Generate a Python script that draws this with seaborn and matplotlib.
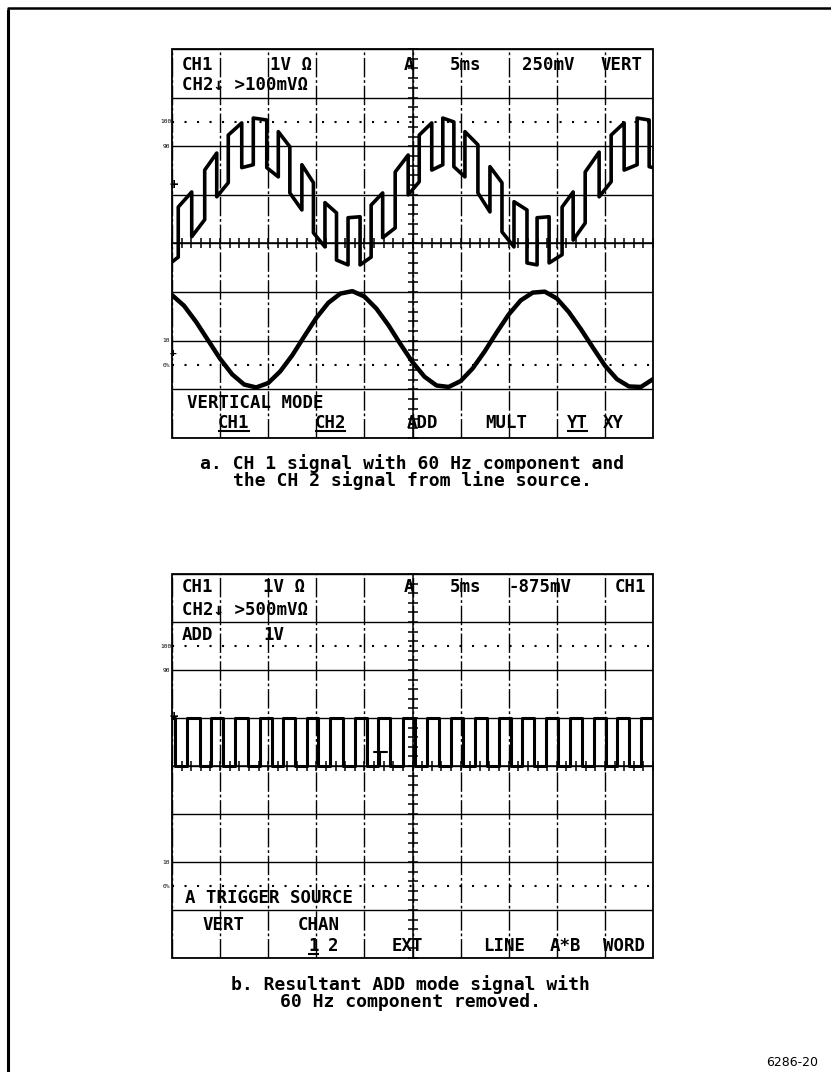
import matplotlib
matplotlib.use("Agg")
from matplotlib import pyplot as plt
from matplotlib.lines import Line2D
from matplotlib.patches import Rectangle
from matplotlib.ticker import MultipleLocator
import seaborn as sns

# panel a, CH1 : stepped trace, one straight segment between consecutive edges
ch1_edges = [0.00, 0.13, 0.41, 0.68, 0.93, 1.17, 1.45, 1.69, 1.97, 2.21,
             2.45, 2.70, 2.94, 3.18, 3.42, 3.66, 3.91, 4.14, 4.38, 4.64,
             4.91, 5.14, 5.40, 5.63, 5.86, 6.09, 6.36, 6.61, 6.86, 7.11,
             7.38, 7.59, 7.84, 8.11, 8.34, 8.59, 8.88, 9.13, 9.40, 9.67,
             9.92, 10.00]
ch1_seg_start = [3.62, 4.75, 4.14, 5.51, 4.96, 6.23, 5.56, 6.58, 5.56, 6.30,
                 5.04, 5.62, 4.22, 4.84, 3.66, 4.53, 3.56, 4.79, 4.12, 5.47,
                 5.00, 6.23, 5.51, 6.58, 5.58, 6.30, 5.04, 5.58, 4.24, 4.86,
                 3.60, 4.53, 3.60, 4.75, 4.07, 5.47, 4.96, 6.23, 5.51, 6.58,
                 5.58]
ch1_seg_end = [3.72, 5.06, 4.49, 5.86, 5.25, 6.48, 5.62, 6.54, 5.37, 5.99,
               4.69, 5.25, 3.93, 4.63, 3.56, 4.55, 3.72, 5.04, 4.32, 5.82,
               5.27, 6.48, 5.62, 6.50, 5.37, 6.03, 4.65, 5.25, 3.93, 4.69,
               3.56, 4.55, 3.77, 5.06, 4.42, 5.88, 5.27, 6.48, 5.62, 6.54,
               5.56]

# panel a, CH2 : line-source sine
ch2_x = [0.00, 0.25, 0.50, 0.75, 1.00, 1.25, 1.50, 1.75, 2.00, 2.25,
         2.50, 2.75, 3.00, 3.25, 3.50, 3.75, 4.00, 4.25, 4.50, 4.75,
         5.00, 5.25, 5.50, 5.75, 6.00, 6.25, 6.50, 6.75, 7.00, 7.25,
         7.50, 7.75, 8.00, 8.25, 8.50, 8.75, 9.00, 9.25, 9.50, 9.75,
         10.00]
ch2_y = [2.94, 2.72, 2.39, 2.01, 1.63, 1.31, 1.10, 1.04, 1.13, 1.37,
         1.70, 2.09, 2.47, 2.78, 2.97, 3.02, 2.91, 2.66, 2.32, 1.93,
         1.56, 1.26, 1.08, 1.05, 1.17, 1.43, 1.78, 2.17, 2.54, 2.83,
         2.99, 3.01, 2.87, 2.59, 2.24, 1.86, 1.49, 1.21, 1.06, 1.05,
         1.21]

# panel b, ADD : square wave, level switches at each edge (starts high)
add_edges = [0.00, 0.07, 0.31, 0.58, 0.82, 1.07, 1.31, 1.59, 1.83, 2.07,
             2.31, 2.56, 2.80, 3.04, 3.28, 3.56, 3.80, 4.05, 4.29, 4.53,
             4.81, 5.06, 5.30, 5.55, 5.80, 6.05, 6.29, 6.54, 6.79, 7.04,
             7.28, 7.53, 7.78, 8.03, 8.27, 8.52, 8.77, 9.02, 9.26, 9.51,
             9.76, 10.00]
add_high = 5.0
add_low = 4.0
trig_x, trig_y = 4.32, 4.29

# on-screen readouts  (text, x, y, underlined)
a_texts = [("CH1", 0.21, 7.67, False), ("1V \u03a9", 2.04, 7.67, False),
           ("A", 4.82, 7.67, False),
           ("5ms", 5.78, 7.67, False), ("250mV", 7.28, 7.67, False),
           ("VERT", 8.90, 7.67, False), ("CH2\u2193 >100mV\u03a9", 0.21, 7.26, False),
           ("VERTICAL MODE", 0.31, 0.72, False), ("CH1", 0.96, 0.31, True),
           ("CH2", 2.97, 0.31, True), ("ADD", 4.89, 0.31, False),
           ("MULT", 6.51, 0.31, False), ("YT", 8.21, 0.31, True),
           ("XY", 8.96, 0.31, False)]
b_texts = [("CH1", 0.21, 7.73, False), ("1V \u03a9", 1.89, 7.73, False),
           ("A", 4.82, 7.73, False),
           ("5ms", 5.78, 7.73, False), ("-875mV", 6.99, 7.73, False),
           ("CH1", 9.21, 7.73, False), ("CH2\u2193 >500mV\u03a9", 0.21, 7.25, False),
           ("ADD", 0.21, 6.73, False), ("1V", 1.89, 6.73, False),
           ("A TRIGGER SOURCE", 0.27, 1.25, False), ("VERT", 0.64, 0.69, False),
           ("CHAN", 2.62, 0.69, False), ("1", 2.83, 0.26, True),
           ("2", 3.25, 0.26, False), ("EXT", 4.57, 0.26, False),
           ("LINE", 6.47, 0.26, False), ("A*B", 7.86, 0.26, False),
           ("WORD", 8.96, 0.26, False)]
scale_labels = [("100", 6.5), ("90", 6.0), ("10", 2.0), ("0%", 1.5)]

caption_a = "a. CH 1 signal with 60 Hz component and\nthe CH 2 signal from line source."
caption_b = "b. Resultant ADD mode signal with\n60 Hz component removed."
fig_no = "6286-20"

####  HELPERS  ####

FS = 12.5
PITCH = 0.602 * FS * 100 / 72 / 48.1          # one mono character, in divisions


def screen(ax):
    ax.set_xlim(0, 10)
    ax.set_ylim(0, 8)
    ax.set_facecolor("white")
    for s in ["top", "right"]:
        ax.spines[s].set_visible(False)
    ax.spines["left"].set_position(("data", 5))
    ax.spines["bottom"].set_position(("data", 4))
    for s in ["left", "bottom"]:
        ax.spines[s].set_linewidth(1.1)
        ax.spines[s].set_color("black")
    for axis in [ax.xaxis, ax.yaxis]:
        axis.set_major_locator(MultipleLocator(1))
        axis.set_minor_locator(MultipleLocator(0.2))
    ax.tick_params(which="both", direction="inout", length=7, width=1.1,
                   color="black", bottom=True, left=True, top=False, right=False,
                   labelleft=False, labelbottom=False)
    ax.xaxis.grid(True, color="black", lw=1.0, ls=(0, (14, 2, 2, 2)))
    ax.yaxis.grid(True, color="black", lw=1.0)
    ax.set_axisbelow(True)
    ax.add_patch(Rectangle((0, 0), 10, 8, fill=False, lw=1.3, ec="black",
                           clip_on=False, zorder=3))
    ax.axhline(6.5, color="black", lw=1.5, ls=(0, (1, 5)))
    ax.axhline(1.5, color="black", lw=1.5, ls=(0, (1, 5)))
    for s, y in scale_labels:
        ax.text(-0.12, y, s, fontsize=4.5, color="black", ha="center",
                va="center", clip_on=False)


def readouts(ax, items):
    for s, x, y, ul in items:
        ax.text(x, y, s, fontsize=FS, fontweight="bold", color="black",
                ha="left", va="center")
        if ul:
            ax.plot([x, x + len(s) * PITCH], [y - 0.17, y - 0.17], color="black",
                    lw=1.5, solid_capstyle="butt")


def steps(edges, starts, ends):
    xs, ys = [], []
    for i in range(len(starts)):
        xs += [edges[i], edges[i + 1]]
        ys += [starts[i], ends[i]]
    return xs, ys

####  MAIN  ####


def main():
    sns.set_style("white")
    plt.rcParams["font.family"] = ["DejaVu Sans Mono", "DejaVu Sans"]
    plt.rcParams["text.color"] = "black"

    fig = plt.figure(figsize=(8.31, 10.72), dpi=100)
    axA = fig.add_axes([172 / 831, 1 - 438 / 1072, 481 / 831, 389 / 1072])
    axB = fig.add_axes([172 / 831, 1 - 958 / 1072, 481 / 831, 384 / 1072])

    screen(axA)
    screen(axB)

    x1, y1 = steps(ch1_edges, ch1_seg_start, ch1_seg_end)
    sns.lineplot(x=x1, y=y1, sort=False, estimator=None, color="black", lw=2.6, ax=axA)
    sns.lineplot(x=ch2_x, y=ch2_y, sort=False, estimator=None, color="black", lw=3.2, ax=axA)

    lv = [add_high if i % 2 == 0 else add_low for i in range(len(add_edges) - 1)]
    x2, y2 = steps(add_edges, lv, lv)
    sns.lineplot(x=x2, y=y2, sort=False, estimator=None, color="black", lw=2.2, ax=axB)
    axB.plot([trig_x - 0.12, trig_x + 0.15], [trig_y, trig_y], color="black", lw=1.5)
    axB.plot([trig_x, trig_x], [trig_y, add_low], color="black", lw=1.5)

    readouts(axA, a_texts)
    readouts(axB, b_texts)

    for ax in [axA, axB]:
        ax.set_xlabel("")
        ax.set_ylabel("")
        ax.text(0.03, 5.2 if ax is axA else 5.02, "+", fontsize=10, fontweight="bold",
                ha="center", va="center")
    axA.text(0.03, 1.75, "+", fontsize=8, fontweight="bold", ha="center", va="center")

    fig.text(412 / 831, 1 - 472 / 1072, caption_a, fontsize=13, fontweight="bold",
             ha="center", va="center", linespacing=0.88)
    fig.text(410 / 831, 1 - 993 / 1072, caption_b, fontsize=13, fontweight="bold",
             ha="center", va="center", linespacing=0.88)
    fig.text(792 / 831, 1 - 1062 / 1072, fig_no, fontsize=9, ha="center",
             va="center", family="DejaVu Sans")

    # page frame
    fig.add_artist(Line2D([8 / 831, 8 / 831], [0, 1 - 10 / 1072], color="black", lw=2.2))
    fig.add_artist(Line2D([8 / 831, 1], [1 - 8 / 1072, 1 - 8 / 1072], color="black", lw=1.8))

    fig.savefig("out.png", dpi=100, facecolor="white")


if __name__ == "__main__":
    main()
